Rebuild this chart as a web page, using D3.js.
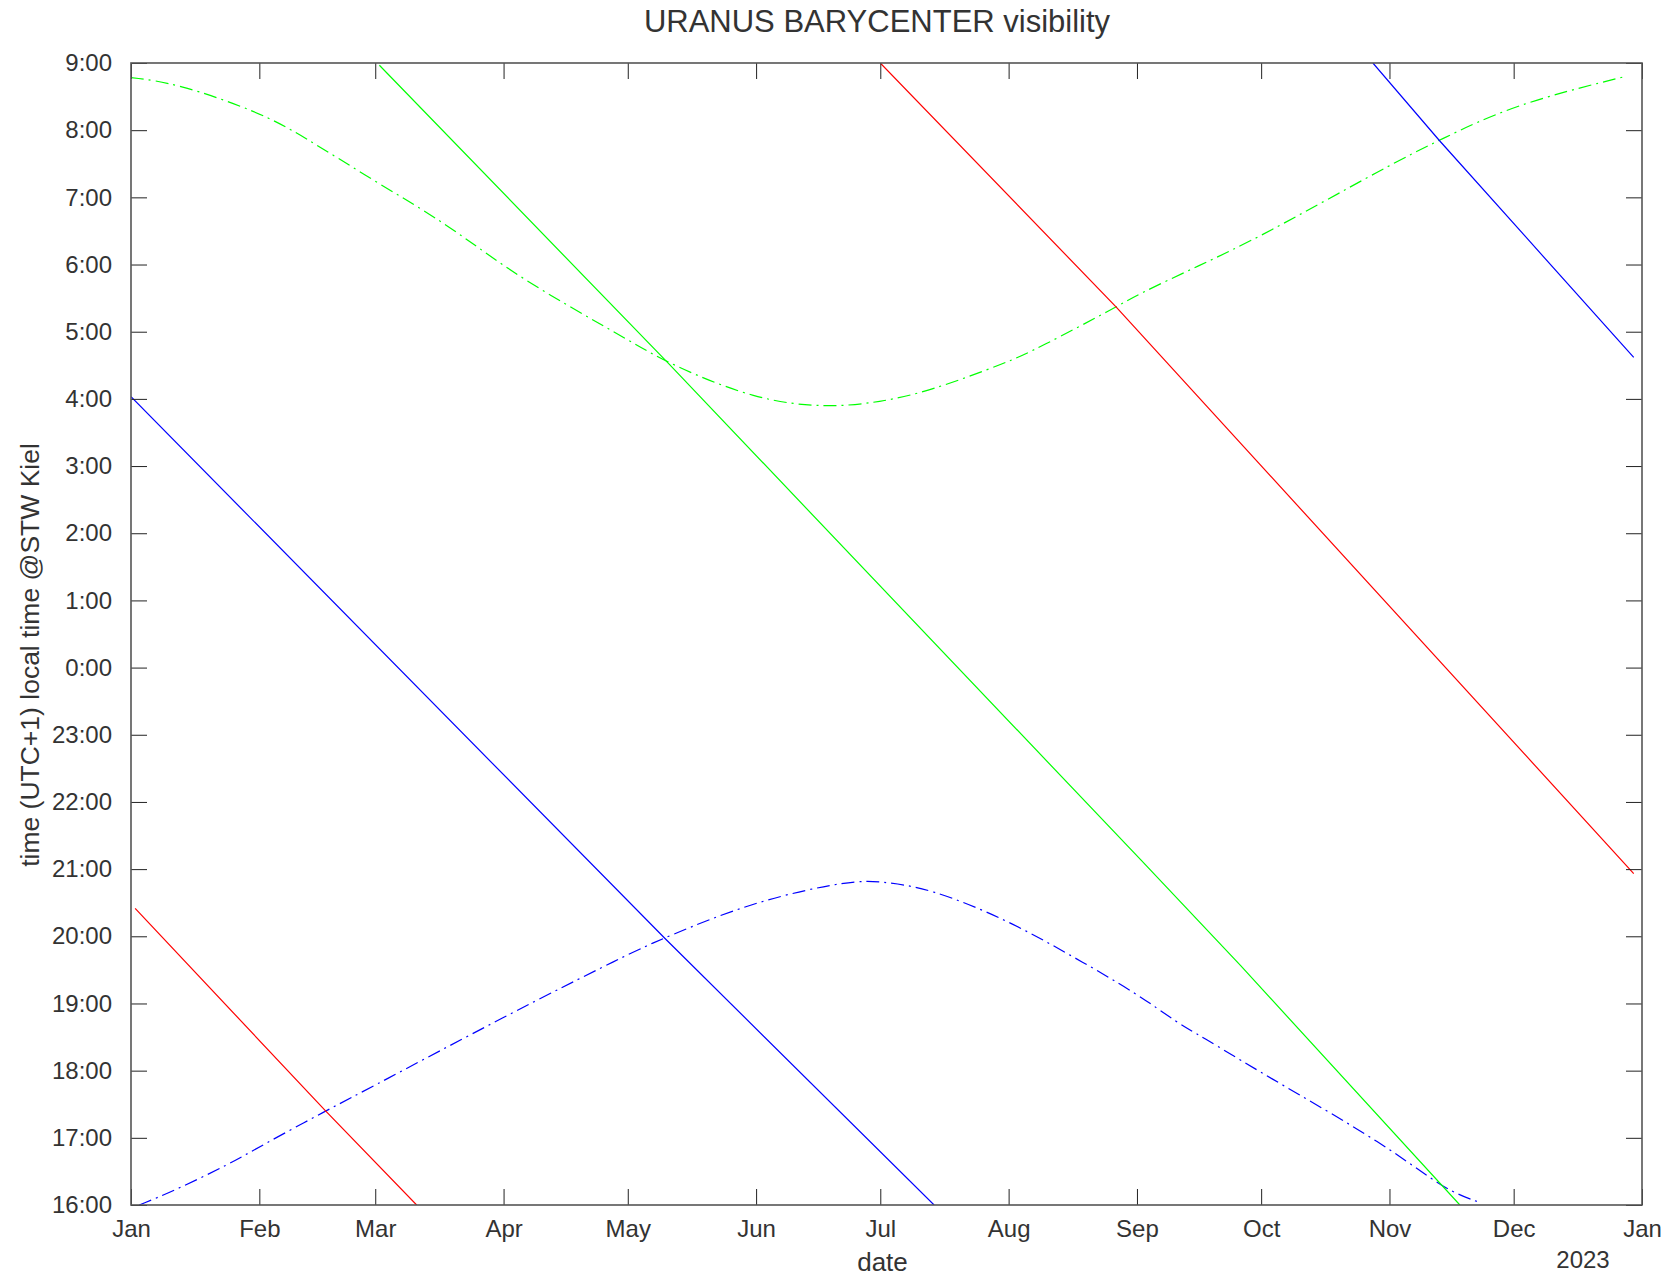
<!DOCTYPE html>
<html>
<head>
<meta charset="utf-8">
<script src="https://cdnjs.cloudflare.com/ajax/libs/d3/7.8.5/d3.min.js"></script>
<style>
  body { margin: 0; background: #fff; }
  text { font-family: "Liberation Sans", Arial, sans-serif; fill: #333; }
</style>
</head>
<body>
<div class="chart"></div>
<script>
// tick labels
var monthLabels = ["Jan", "Feb", "Mar", "Apr", "May", "Jun", "Jul", "Aug", "Sep", "Oct", "Nov", "Dec", "Jan"];
var hourLabels = ["16:00", "17:00", "18:00", "19:00", "20:00", "21:00", "22:00", "23:00", "0:00",
                  "1:00", "2:00", "3:00", "4:00", "5:00", "6:00", "7:00", "8:00", "9:00"];
var yearLabel = "2023";

// Uranus transit (red), two pieces because of the wrap at 9:00 / 16:00
var transit1 = [["2022-01-02", "20:25"], ["2022-02-17", "17:24"], ["2022-03-11", "16:00"]];
var transit2 = [["2022-07-01", "9:00"], ["2022-08-27", "5:22"], ["2022-12-30", "20:56"]];

// Uranus rise (green)
var rise1 = [["2022-03-02", "8:58"], ["2022-05-11", "4:31"], ["2022-09-02", "21:08"],
             ["2022-09-26", "19:34"], ["2022-11-18", "16:00"]];

// Uranus set (blue)
var set1 = [["2022-01-01", "4:02"], ["2022-05-10", "19:58"], ["2022-07-14", "16:00"]];
var set2 = [["2022-10-28", "9:00"], ["2022-11-13", "7:51"], ["2022-12-30", "4:37"]];

// sunrise (green dash-dot)
var sunrise = [["2022-01-01", "8:47"], ["2022-01-12", "8:42"], ["2022-02-01", "8:16"], ["2022-02-11", "7:56"],
               ["2022-03-01", "7:14"], ["2022-03-18", "6:37"], ["2022-04-01", "5:58"], ["2022-04-17", "5:22"],
               ["2022-05-01", "4:53"], ["2022-05-11", "4:31"], ["2022-06-01", "3:59"], ["2022-06-18", "3:52"],
               ["2022-07-01", "3:57"], ["2022-07-13", "4:07"], ["2022-08-01", "4:33"], ["2022-08-08", "4:45"],
               ["2022-08-27", "5:22"], ["2022-09-01", "5:33"], ["2022-09-16", "5:59"], ["2022-10-01", "6:25"],
               ["2022-11-01", "7:29"], ["2022-11-13", "7:51"], ["2022-12-01", "8:23"], ["2022-12-28", "8:48"]];

// sunset (blue dash-dot)
var sunset = [["2022-01-03", "16:00"], ["2022-01-11", "16:12"], ["2022-01-25", "16:37"], ["2022-02-01", "16:52"],
              ["2022-02-17", "17:24"], ["2022-03-01", "17:47"], ["2022-04-01", "18:48"], ["2022-05-01", "19:44"],
              ["2022-05-10", "19:59"], ["2022-06-01", "20:32"], ["2022-06-24", "20:50"], ["2022-07-01", "20:49"],
              ["2022-07-13", "20:43"], ["2022-08-01", "20:14"], ["2022-08-16", "19:43"], ["2022-09-01", "19:09"],
              ["2022-09-11", "18:42"], ["2022-09-16", "18:32"], ["2022-10-01", "17:58"], ["2022-11-01", "16:52"],
              ["2022-11-14", "16:14"], ["2022-11-23", "16:02"]];

var svgWidth = 1670;
var svgHeight = 1279;
var margin = { top: 63, right: 28, bottom: 74, left: 131 };
var width = svgWidth - margin.left - margin.right;
var height = svgHeight - margin.top - margin.bottom;

var parseDate = d3.timeParse("%Y-%m-%d");

// hours counted from 16:00 (bottom of the plot) up to 9:00 next morning
function hoursAfter16(s) {
    var p = s.split(":");
    var h = +p[0] + (+p[1]) / 60;
    return h >= 16 ? h - 16 : h + 8;
}

var svg = d3.select(".chart")
    .append("svg")
    .attr("width", svgWidth)
    .attr("height", svgHeight);

var chart = svg.append("g")
    .attr("transform", "translate(" + margin.left + "," + margin.top + ")");

var xTimeScale = d3.scaleTime()
    .domain([new Date(2022, 0, 1), new Date(2023, 0, 1)])
    .range([0, width]);

var yLinearScale = d3.scaleLinear()
    .domain([0, hourLabels.length - 1])
    .range([height, 0]);

var monthTicks = d3.timeMonth.range(new Date(2022, 0, 1), new Date(2023, 0, 2));
var hourTicks = d3.range(hourLabels.length);

// clip the lines to the plot frame
chart.append("clipPath")
    .attr("id", "plot-clip")
    .append("rect")
    .attr("width", width)
    .attr("height", height);

var line = d3.line()
    .x(function(d) { return xTimeScale(parseDate(d[0])); })
    .y(function(d) { return yLinearScale(hoursAfter16(d[1])); });

// the sun curves are smoothed a bit, the readings are a little noisy
var curve = d3.line()
    .curve(d3.curveBasis)
    .x(function(d) { return xTimeScale(parseDate(d[0])); })
    .y(function(d) { return yLinearScale(hoursAfter16(d[1])); });

var plotLines = [
    { data: sunset, color: "#0000ff", dash: true },
    { data: sunrise, color: "#00ff00", dash: true },
    { data: set1, color: "#0000ff" },
    { data: set2, color: "#0000ff" },
    { data: rise1, color: "#00ff00" },
    { data: transit1, color: "#ff0000" },
    { data: transit2, color: "#ff0000" }
];

var lineGroup = chart.append("g").attr("clip-path", "url(#plot-clip)");

lineGroup.selectAll("path")
    .data(plotLines)
    .enter()
    .append("path")
    .attr("d", function(d) { return d.dash ? curve(d.data) : line(d.data); })
    .attr("fill", "none")
    .attr("stroke", function(d) { return d.color; })
    .attr("stroke-width", 1.2)
    .attr("stroke-dasharray", function(d) { return d.dash ? "13,5,2,5" : null; });

// axes, ticks pointing inwards on all four sides
var bottomAxis = d3.axisBottom(xTimeScale)
    .tickValues(monthTicks)
    .tickSizeInner(-16)
    .tickSizeOuter(0)
    .tickPadding(15)
    .tickFormat(function(d, i) { return monthLabels[i]; });

var topAxis = d3.axisTop(xTimeScale)
    .tickValues(monthTicks)
    .tickSizeInner(-16)
    .tickSizeOuter(0)
    .tickFormat("");

var leftAxis = d3.axisLeft(yLinearScale)
    .tickValues(hourTicks)
    .tickSizeInner(-16)
    .tickSizeOuter(0)
    .tickPadding(19)
    .tickFormat(function(d) { return hourLabels[d]; });

var rightAxis = d3.axisRight(yLinearScale)
    .tickValues(hourTicks)
    .tickSizeInner(-16)
    .tickSizeOuter(0)
    .tickFormat("");

var xAxisG = chart.append("g").attr("transform", "translate(0," + height + ")").call(bottomAxis);
var topAxisG = chart.append("g").call(topAxis);
var yAxisG = chart.append("g").call(leftAxis);
var rightAxisG = chart.append("g").attr("transform", "translate(" + width + ",0)").call(rightAxis);

[xAxisG, topAxisG, yAxisG, rightAxisG].forEach(function(g) {
    g.select(".domain").remove();
    g.selectAll(".tick line").attr("stroke", "#222").attr("stroke-width", 1);
    g.selectAll(".tick text")
        .attr("font-family", "Liberation Sans, Arial, sans-serif")
        .attr("font-size", 24)
        .style("fill", "#333");
});

// plot frame
chart.append("rect")
    .attr("width", width)
    .attr("height", height)
    .attr("fill", "none")
    .attr("stroke", "#555")
    .attr("stroke-width", 1.6);

// year under the last month
chart.append("text")
    .attr("x", xTimeScale(new Date(2023, 0, 1)) - 59)
    .attr("y", height + 63)
    .attr("text-anchor", "middle")
    .attr("font-size", 24)
    .text(yearLabel);

// axis titles
chart.append("text")
    .attr("x", width / 2 - 4)
    .attr("y", height + 66)
    .attr("text-anchor", "middle")
    .attr("font-size", 26)
    .text("date");

svg.append("text")
    .attr("transform", "rotate(-90)")
    .attr("x", -655)
    .attr("y", 39)
    .attr("text-anchor", "middle")
    .attr("font-size", 26.5)
    .text("time (UTC+1) local time @STW Kiel");

svg.append("text")
    .attr("x", 877)
    .attr("y", 32)
    .attr("text-anchor", "middle")
    .attr("font-size", 31)
    .text("URANUS BARYCENTER visibility");
</script>
</body>
</html>
